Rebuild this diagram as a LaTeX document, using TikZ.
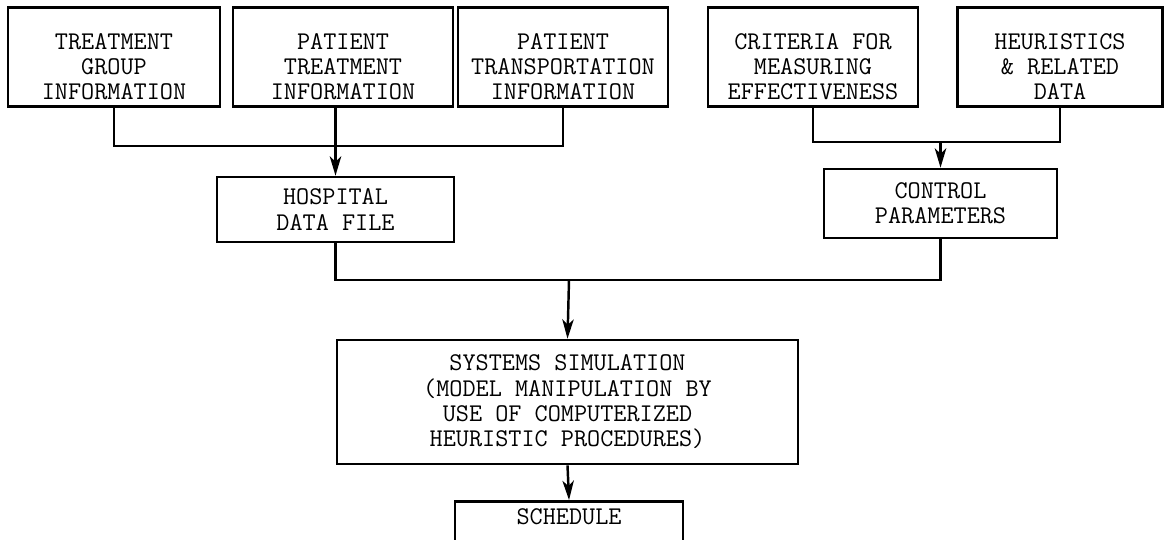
\documentclass[tikz,border=0pt]{standalone}
\usetikzlibrary{arrows.meta}
\newcommand{\topgap}{\rule{0pt}{20pt}}
\begin{document}
\begin{tikzpicture}[x=0.02cm,y=-0.02cm,
    box/.style={draw,line width=1.5pt,align=center,inner sep=0pt,
      font=\ttfamily\fontsize{14.5}{14.4}\selectfont},
    topbox/.style={box,minimum height=1.98cm},
    link/.style={line width=1.4pt},
    arr/.style={link,-{Stealth[length=11pt,width=6.5pt,inset=3pt]}}]
  \clip (0,0) rectangle (1168,539);
  \node [topbox,minimum width=4.24cm] (tgi) at (114,57) {\topgap TREATMENT\\GROUP\\INFORMATION};
  \node [topbox,minimum width=4.4cm] (pti) at (343,57) {\topgap PATIENT\\TREATMENT\\INFORMATION};
  \node [topbox,minimum width=4.2cm] (ptr) at (563,57) {\topgap PATIENT\\TRANSPORTATION\\INFORMATION};
  \node [topbox,minimum width=4.2cm] (crit) at (813,57) {\topgap CRITERIA FOR\\MEASURING\\EFFECTIVENESS};
  \node [topbox,minimum width=4.1cm] (heur) at (1060,57) {\topgap HEURISTICS\\\& RELATED\\DATA};
  \node [box,minimum width=4.74cm,minimum height=1.3cm] (hosp) at (335.5,209.5) {HOSPITAL\\DATA FILE};
  \node [box,minimum width=4.66cm,minimum height=1.38cm] (ctrl) at (940.5,203.5) {CONTROL\\PARAMETERS};
  \node [box,minimum width=9.22cm,minimum height=2.48cm] (sim) at (567.5,402)
    {SYSTEMS SIMULATION\\(MODEL MANIPULATION BY\\USE OF COMPUTERIZED\\HEURISTIC PROCEDURES)};
  \node [box,minimum width=4.56cm,text depth=0.7cm,inner ysep=4pt,anchor=north] (sched) at (569,500) {SCHEDULE};
  \coordinate (j1) at (335.5,146);
  \coordinate (j2) at (940.5,142);
  \coordinate (j3) at (569,280);
  \draw [link] (tgi.south) |- (j1) -| (ptr.south);
  \draw [arr] (pti.south -| hosp.north) -- (hosp.north);
  \draw [link] (crit.south) |- (j2) -| (heur.south);
  \draw [arr] (j2) -- (ctrl.north);
  \draw [link] (hosp.south) |- (j3) -| (ctrl.south);
  \draw [arr] (j3) -- (sim.north);
  \draw [arr] (sim.south) -- (sched.north);
\end{tikzpicture}
\end{document}
